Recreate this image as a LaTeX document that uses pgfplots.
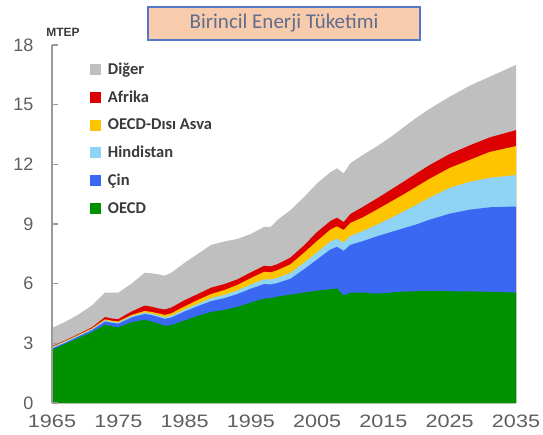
\documentclass[border=0pt]{standalone}
\usepackage{fontspec}
\setmainfont{Carlito}
\newfontfamily\tickfont{Liberation Sans}
\newfontfamily\xtickfont[FakeStretch=1.2]{Liberation Sans}
\usepackage{pgfplots}
\usepackage{pgfplotstable}
\pgfplotsset{compat=1.18}
\definecolor{cOECD}{HTML}{009100}
\definecolor{cCin}{HTML}{3A68F2}
\definecolor{cHind}{HTML}{8FD4F5}
\definecolor{cAsya}{HTML}{FFC400}
\definecolor{cAfr}{HTML}{DD0000}
\definecolor{cDiger}{HTML}{BFBFBF}
\definecolor{titlefill}{HTML}{F8CBAD}
\definecolor{titleborder}{HTML}{5577C8}
\definecolor{titletext}{HTML}{5F6E8C}
\definecolor{ticktext}{HTML}{5E5E5E}
\definecolor{legtext}{HTML}{3A3A3A}
\definecolor{axisgray}{HTML}{9A9A9A}

% cumulative tops: G=OECD, B=+Cin, L=+Hindistan, Y=+OECD-disi Asya, R=+Afrika, T=+Diger
\pgfplotstableread{
year G B L Y R T
1965 2.68 2.74 2.80 2.83 2.86 3.77
1967 2.97 3.03 3.09 3.12 3.15 4.08
1969 3.27 3.35 3.40 3.43 3.47 4.45
1971 3.55 3.66 3.71 3.75 3.80 4.90
1973 3.93 4.10 4.16 4.21 4.32 5.55
1974 3.86 4.03 4.09 4.14 4.25 5.55
1975 3.80 3.99 4.05 4.10 4.22 5.55
1977 4.06 4.30 4.37 4.43 4.60 6.00
1979 4.18 4.48 4.55 4.63 4.90 6.55
1980 4.10 4.42 4.49 4.58 4.84 6.52
1981 4.00 4.33 4.41 4.51 4.76 6.47
1982 3.88 4.23 4.31 4.43 4.70 6.40
1983 3.92 4.30 4.38 4.51 4.80 6.55
1985 4.15 4.60 4.70 4.86 5.17 7.05
1987 4.38 4.87 4.99 5.18 5.48 7.50
1989 4.58 5.12 5.27 5.48 5.80 7.95
1991 4.68 5.27 5.44 5.68 5.98 8.12
1993 4.83 5.48 5.66 5.94 6.22 8.25
1995 5.05 5.75 5.96 6.28 6.57 8.50
1997 5.25 5.98 6.22 6.60 6.90 8.85
1998 5.27 5.96 6.21 6.57 6.87 8.85
1999 5.35 6.03 6.29 6.68 6.98 9.20
2001 5.45 6.25 6.55 6.98 7.32 9.70
2003 5.55 6.72 7.05 7.55 7.92 10.35
2005 5.65 7.22 7.58 8.15 8.60 11.05
2007 5.72 7.72 8.12 8.72 9.15 11.60
2008 5.76 7.85 8.26 8.88 9.32 11.80
2009 5.40 7.65 8.07 8.70 9.10 11.55
2010 5.55 7.95 8.40 9.05 9.50 12.05
2012 5.55 8.15 8.66 9.35 9.88 12.50
2014 5.50 8.38 8.96 9.72 10.28 12.90
2016 5.55 8.58 9.28 10.10 10.70 13.35
2018 5.60 8.78 9.62 10.48 11.12 13.85
2020 5.62 8.98 9.97 10.88 11.55 14.35
2022 5.63 9.22 10.33 11.28 11.97 14.80
2025 5.62 9.52 10.82 11.82 12.52 15.40
2028 5.61 9.72 11.12 12.22 12.95 15.95
2031 5.59 9.84 11.32 12.62 13.35 16.40
2035 5.55 9.88 11.46 12.92 13.72 17.00
}\energy

\begin{document}
\begin{tikzpicture}
\useasboundingbox (0pt,0pt) rectangle (543pt,434pt);
\begin{axis}[
  at={(52pt,31pt)}, anchor=south west,
  width=464pt, height=358pt, scale only axis,
  xmin=1965, xmax=2035, ymin=0, ymax=18,
  xtick={1965,1975,...,2035},
  ytick={0,3,...,18},
  axis lines*=left,
  axis on top,
  x axis line style={draw=none},
  y axis line style={draw=axisgray, line width=1.1pt},
  xtick style={draw=none},
  ytick style={draw=axisgray, line width=1.1pt},
  tick align=inside,
  major tick length=6pt,
  /pgf/number format/1000 sep={},
  /pgf/number format/assume math mode=true,
  yticklabel style={font=\tickfont\fontsize{18}{18}\selectfont, text=ticktext, anchor=east, xshift=-15pt},
  xticklabel style={font=\xtickfont\fontsize{18}{18}\selectfont, text=ticktext, yshift=-8pt},
  legend style={draw=none, fill=none, at={(0.075,0.962)}, anchor=north west,
    font=\bfseries\fontsize{16.5}{16.5}\selectfont, text=legtext, row sep=11pt, column sep=5pt},
  legend cell align=left,
  legend image code/.code={\fill[#1] (0pt,-5.5pt) rectangle (11pt,5.5pt);},
]
\addplot[draw=none, fill=cDiger] table[x=year, y=T] {\energy} \closedcycle;
\addlegendentry{Diğer}
\addplot[draw=none, fill=cAfr] table[x=year, y=R] {\energy} \closedcycle;
\addlegendentry{Afrika}
\addplot[draw=none, fill=cAsya] table[x=year, y=Y] {\energy} \closedcycle;
\addlegendentry{OECD-Dısı Asva}
\addplot[draw=none, fill=cHind] table[x=year, y=L] {\energy} \closedcycle;
\addlegendentry{Hindistan}
\addplot[draw=none, fill=cCin] table[x=year, y=B] {\energy} \closedcycle;
\addlegendentry{Çin}
\addplot[draw=none, fill=cOECD] table[x=year, y=G] {\energy} \closedcycle;
\addlegendentry{OECD}
\end{axis}
\node[fill=titlefill, draw=titleborder, line width=1.2pt, minimum width=272pt, minimum height=33pt, inner sep=0pt, text=titletext, font=\fontsize{21}{21}\selectfont] at (284pt,410.5pt) {Birincil Enerji Tüketimi};
\node[font=\tickfont\bfseries\fontsize{12}{12}\selectfont, text=legtext] at (63pt,402pt) {MTEP};
\end{tikzpicture}
\end{document}
